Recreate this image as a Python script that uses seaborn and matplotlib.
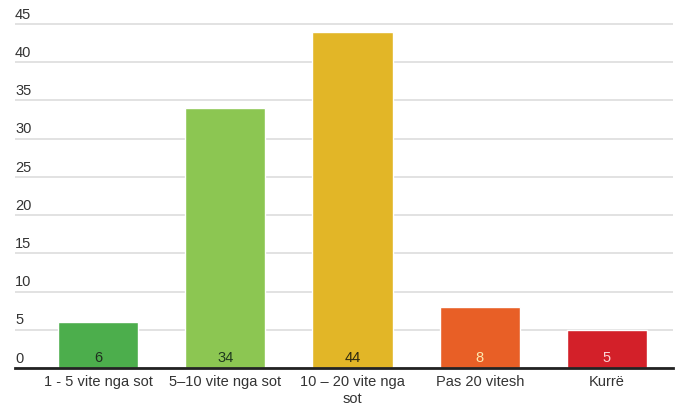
import matplotlib
matplotlib.use("Agg")
import matplotlib.pyplot as plt
import matplotlib.transforms as mtransforms
import seaborn as sns

categories = ["1 - 5 vite nga sot", "5–10 vite nga sot", "10 – 20 vite nga\nsot",
              "Pas 20 vitesh", "Kurrë"]
values = [6, 34, 44, 8, 5]
bar_colors = ["#4cae4c", "#8cc652", "#e2b627", "#e85f26", "#d32029"]
label_colors = ["#1f2f1f", "#1f3a1f", "#2e2a10", "#fde9b0", "#fbd4d4"]
yticks = [0, 5, 10, 15, 20, 25, 30, 35, 40, 45]

sns.set_theme(style="white")
plt.rcParams["font.family"] = ["Liberation Sans", "DejaVu Sans"]

fig = plt.figure(figsize=(6.81, 4.05), dpi=100)
ax = fig.add_axes([15 / 681, 1 - 368 / 405, 658 / 681, (368 - 16) / 405])

sns.barplot(x=list(range(len(values))), y=values, palette=bar_colors,
            hue=list(range(len(values))), legend=False, width=0.63,
            saturation=1, ax=ax)

ax.set_xlim(-0.652, 4.519)
ax.set_ylim(0, 46.05)
ax.set_yticks(yticks)
ax.yaxis.grid(True, color="#dddddd", linewidth=1.2)
ax.set_axisbelow(True)
ax.tick_params(axis="y", length=0, labelleft=False)
ax.tick_params(axis="x", length=0, pad=5)
ax.set_xticks(range(len(categories)))
ax.set_xticklabels(categories, fontsize=10.5, color="#333333", linespacing=1.25)
for side in ["top", "right", "left"]:
    ax.spines[side].set_visible(False)
ax.spines["bottom"].set_color("#222222")
ax.spines["bottom"].set_linewidth(2)

trans = mtransforms.blended_transform_factory(ax.transAxes, ax.transData)
for t in yticks:
    ax.text(0.0, t + 0.3, str(t), transform=trans, fontsize=10.5,
            color="#333333", ha="left", va="bottom")

for i, v in enumerate(values):
    ax.text(i, 0.4, str(v), ha="center", va="bottom", fontsize=10.5,
            color=label_colors[i])

fig.savefig("out.png", dpi=100)
plt.close(fig)
